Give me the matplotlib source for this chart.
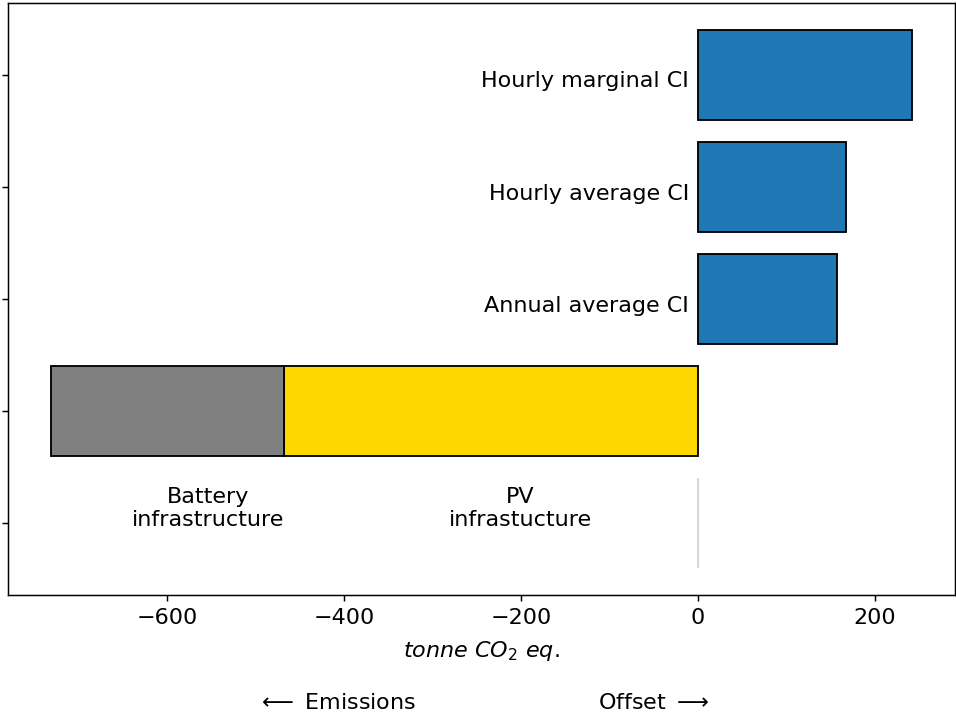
import numpy as np
import matplotlib.pyplot as plt

# tonne CO2 eq. per scenario (negative = embodied emissions, positive = offset)
offset_labels = ['Annual average CI', 'Hourly average CI', 'Hourly marginal CI']
offset_values = [157, 168, 242]
pv_infra = -468
battery_infra = -263

plt.rcParams['font.size'] = 12

fig, ax = plt.subplots(figsize=(956 / 133.33, 716 / 133.33), dpi=133.33)
fig.subplots_adjust(left=8 / 956, right=955 / 956, top=1 - 3 / 716, bottom=1 - 595 / 716)

# empty row at the bottom
ax.barh(0, 0, height=0.8, color='white', edgecolor='lightgrey')

# embodied emissions, stacked
ax.barh(1, pv_infra, height=0.8, color='gold', edgecolor='black')
ax.barh(1, battery_infra, left=pv_infra, height=0.8, color='grey', edgecolor='black')

ypos = np.arange(2, 2 + len(offset_values))
ax.barh(ypos, offset_values, height=0.8, color='C0', edgecolor='black')
for y, lab in zip(ypos, offset_labels):
    ax.text(-10, y - 0.06, lab, ha='right', va='center')

ax.text(-553, 0.13, 'Battery\ninfrastructure', ha='center', va='center')
ax.text(-201, 0.13, 'PV\ninfrastucture', ha='center', va='center')

ax.set_yticks(np.arange(5))
ax.set_yticklabels([])
ax.set_xlabel(r'$tonne\ CO_2\ eq.$', labelpad=6)

trans = ax.get_xaxis_transform()
ax.text(-408, -0.182, r'$\longleftarrow$ Emissions', transform=trans, ha='center', va='center')
ax.text(-50, -0.182, r'Offset $\longrightarrow$', transform=trans, ha='center', va='center')

fig.savefig('out.png', dpi=133.33)
